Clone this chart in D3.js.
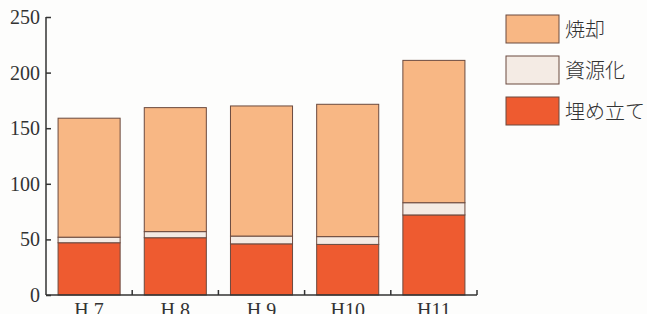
<!DOCTYPE html>
<html lang="ja">
<head>
<meta charset="utf-8"/>
<script src="https://cdnjs.cloudflare.com/ajax/libs/d3/7.8.5/d3.min.js"></script>
<style>
  body { margin: 0; background: #fdfdfc; }
  svg { display: block; }
  .tick-label { font-family: "Liberation Serif", serif; font-size: 20px; fill: #333; }
  .legend-label { font-family: "Noto Sans CJK JP", sans-serif; font-size: 20px; font-weight: 300; fill: #333; }
</style>
</head>
<body>
<svg width="647" height="314"></svg>
<script>
  // data (単位: 万t 程度)
  var years = ["H 7", "H 8", "H 9", "H10", "H11"];
  var landfill = [47, 51.5, 46, 45.5, 72];      // 埋め立て
  var recycle = [5, 5.5, 7, 7, 11];             // 資源化
  var incineration = [107, 111.5, 117, 119, 128]; // 焼却
  var yTicks = [0, 50, 100, 150, 200, 250];

  var seriesNames = ["埋め立て", "資源化", "焼却"];
  var colors = ["#ee5b30", "#f4ebe4", "#f8b784"];
  var legendOrder = [2, 1, 0];

  var rows = years.map(function(y, i) {
    return { year: y, "埋め立て": landfill[i], "資源化": recycle[i], "焼却": incineration[i] };
  });
  var stacked = d3.stack().keys(seriesNames)(rows);

  var svg = d3.select("svg");
  var x = d3.scaleBand().domain(years).range([46, 477]).paddingInner(0.28).paddingOuter(0.14);
  var y = d3.scaleLinear().domain([0, 250]).range([295, 17]);

  // bars
  svg.selectAll("g.series")
    .data(stacked)
    .enter()
    .append("g")
    .attr("class", "series")
    .attr("fill", function(d, i) { return colors[i]; })
    .selectAll("rect")
    .data(function(d) { return d; })
    .enter()
    .append("rect")
    .attr("x", function(d) { return x(d.data.year); })
    .attr("y", function(d) { return y(d[1]); })
    .attr("width", x.bandwidth())
    .attr("height", function(d) { return y(d[0]) - y(d[1]); })
    .attr("stroke", "#6b4a3f")
    .attr("stroke-width", 1);

  // y axis, ticks pointing inward
  var yAxis = svg.append("g")
    .attr("transform", "translate(46,0)")
    .call(d3.axisRight(y).tickValues(yTicks).tickSize(5).tickFormat(""));
  yAxis.select(".domain").attr("d", "M0," + y(250) + "V" + y(0)).attr("stroke", "#333").attr("stroke-width", 1.5);
  yAxis.selectAll(".tick line").attr("stroke", "#333").attr("stroke-width", 1.5);

  svg.selectAll("text.ylab")
    .data(yTicks)
    .enter()
    .append("text")
    .attr("class", "tick-label ylab")
    .attr("x", 40)
    .attr("y", function(d) { return y(d) + 7; })
    .attr("text-anchor", "end")
    .text(function(d) { return d; });

  // x axis with separators between bands
  var step = x.step();
  var bounds = years.map(function(d) { return x(d) - step * 0.14 + step; });
  svg.append("line")
    .attr("x1", 46).attr("x2", 477)
    .attr("y1", y(0)).attr("y2", y(0))
    .attr("stroke", "#333").attr("stroke-width", 1.5);
  svg.selectAll("line.sep")
    .data(bounds)
    .enter()
    .append("line")
    .attr("class", "sep")
    .attr("x1", function(d) { return d; }).attr("x2", function(d) { return d; })
    .attr("y1", y(0)).attr("y2", y(0) - 5)
    .attr("stroke", "#333").attr("stroke-width", 1.5);

  svg.selectAll("text.xlab")
    .data(years)
    .enter()
    .append("text")
    .attr("class", "tick-label xlab")
    .attr("x", function(d) { return x(d) + x.bandwidth() / 2; })
    .attr("y", 317)
    .attr("text-anchor", "middle")
    .style("white-space", "pre")
    .attr("xml:space", "preserve")
    .text(function(d) { return d; });

  // legend
  var legend = svg.selectAll("g.legend")
    .data(legendOrder)
    .enter()
    .append("g")
    .attr("class", "legend")
    .attr("transform", function(d, i) { return "translate(506," + (15 + i * 41) + ")"; });
  legend.append("rect")
    .attr("width", 53).attr("height", 28)
    .attr("fill", function(d) { return colors[d]; })
    .attr("stroke", "#6b4a3f").attr("stroke-width", 1);
  legend.append("text")
    .attr("class", "legend-label")
    .attr("x", 59).attr("y", 22)
    .text(function(d) { return seriesNames[d]; });
</script>
</body>
</html>
